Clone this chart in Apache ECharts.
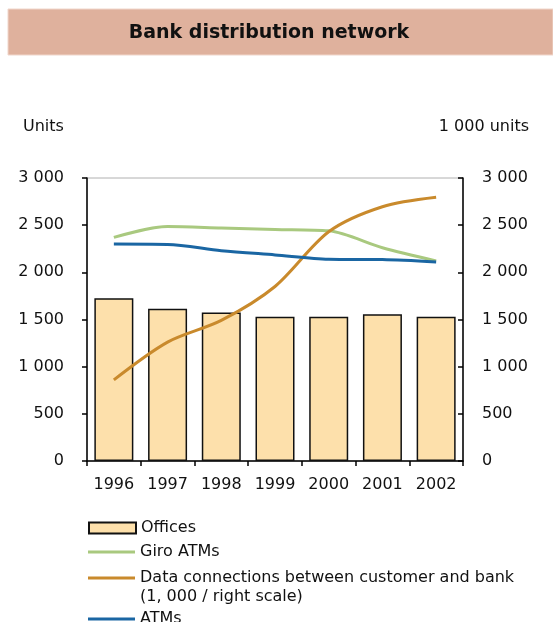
<!DOCTYPE html>
<html>
<head>
<meta charset="utf-8">
<script src="https://cdn.jsdelivr.net/npm/echarts@6/dist/echarts.min.js"></script>
<style>
  html, body { margin: 0; padding: 0; background: #fff; }
  #chart { width: 553px; height: 622px; }
</style>
</head>
<body>
<div id="chart"></div>
<script>
// chart data
const years = ['1996', '1997', '1998', '1999', '2000', '2001', '2002'];
const offices = [1725, 1615, 1575, 1530, 1530, 1555, 1530];
const giroAtms = [2370, 2485, 2470, 2455, 2440, 2260, 2120];
const dataConnections = [860, 1260, 1490, 1850, 2430, 2695, 2795];
const atms = [2300, 2295, 2230, 2185, 2140, 2135, 2110];

const FONT = 'DejaVu Sans';
const fmt = v => v >= 1000 ? Math.floor(v / 1000) + ' ' + String(v % 1000).padStart(3, '0') : String(v);

const chart = echarts.init(document.getElementById('chart'));

const legendBase = {
  orient: 'vertical',
  left: 83,
  itemWidth: 47,
  selectedMode: false,
  textStyle: { fontFamily: FONT, fontSize: 16, color: '#111' }
};

const option = {
  animation: false,
  backgroundColor: '#fff',
  graphic: [
    {
      type: 'rect',
      shape: { x: 8, y: 9, width: 545, height: 46 },
      style: { fill: '#dfb19d', stroke: '#f0d6cb', lineWidth: 1 }
    },
    {
      type: 'text', x: 269, y: 33,
      style: { text: 'Bank distribution network', fontFamily: FONT, fontSize: 19, fontWeight: 'bold',
        fill: '#111', align: 'center', verticalAlign: 'middle' }
    },
    {
      type: 'text', x: 23, y: 127,
      style: { text: 'Units', fontFamily: FONT, fontSize: 16, fill: '#111', verticalAlign: 'middle' }
    },
    {
      type: 'text', x: 529, y: 127,
      style: { text: '1 000 units', fontFamily: FONT, fontSize: 16, fill: '#111', align: 'right', verticalAlign: 'middle' }
    },
    {
      type: 'text', x: 140, y: 597,
      style: { text: '(1, 000 / right scale)', fontFamily: FONT, fontSize: 16, fill: '#111', verticalAlign: 'middle' }
    }
  ],
  legend: [
    Object.assign({}, legendBase, { top: 515, itemHeight: 11, icon: 'rect', data: ['Offices'] }),
    Object.assign({}, legendBase, { top: 539, itemHeight: 3, icon: 'rect', data: ['Giro ATMs'] }),
    Object.assign({}, legendBase, { top: 565, itemHeight: 3, icon: 'rect', data: ['Data connections between customer and bank'] }),
    Object.assign({}, legendBase, { top: 606, itemHeight: 3, icon: 'rect', data: ['ATMs'] })
  ],
  grid: {
    left: 87, right: 90, top: 178, bottom: 161,
    show: true, borderColor: '#b0b0b0', borderWidth: 1, backgroundColor: 'transparent'
  },
  xAxis: {
    type: 'category',
    data: years,
    axisLine: { lineStyle: { color: '#000', width: 1.5 } },
    axisTick: { show: true, length: 5, lineStyle: { color: '#000', width: 1.5 } },
    axisLabel: { margin: 16, fontFamily: FONT, fontSize: 16, color: '#111' }
  },
  yAxis: [
    {
      type: 'value', min: 0, max: 3000, interval: 500,
      axisLine: { show: true, lineStyle: { color: '#000', width: 1.5 } },
      axisTick: { show: true, length: 5, lineStyle: { color: '#000', width: 1.5 } },
      splitLine: { show: false },
      axisLabel: { margin: 23, fontFamily: FONT, fontSize: 16, color: '#111', formatter: fmt }
    },
    {
      type: 'value', min: 0, max: 3000, interval: 500, position: 'right',
      axisLine: { show: true, lineStyle: { color: '#000', width: 1.5 } },
      axisTick: { show: true, inside: true, length: 5, lineStyle: { color: '#000', width: 1.5 } },
      splitLine: { show: false },
      axisLabel: { margin: 19, fontFamily: FONT, fontSize: 16, color: '#111', formatter: fmt }
    }
  ],
  series: [
    {
      name: 'Offices', type: 'bar', data: offices, barWidth: 39,
      itemStyle: { color: '#fde0ab', borderColor: '#111', borderWidth: 1.5 }
    },
    {
      name: 'Giro ATMs', type: 'line', data: giroAtms, smooth: 0.3, symbol: 'none',
      itemStyle: { color: '#a9c97f' }, lineStyle: { color: '#a9c97f', width: 3 }
    },
    {
      name: 'Data connections between customer and bank', type: 'line', yAxisIndex: 1,
      data: dataConnections, smooth: 0.3, symbol: 'none',
      itemStyle: { color: '#c98a2c' }, lineStyle: { color: '#c98a2c', width: 3 }
    },
    {
      name: 'ATMs', type: 'line', data: atms, smooth: 0.3, symbol: 'none',
      itemStyle: { color: '#1a66a3' }, lineStyle: { color: '#1a66a3', width: 3 }
    }
  ]
};

chart.setOption(option);
</script>
</body>
</html>
